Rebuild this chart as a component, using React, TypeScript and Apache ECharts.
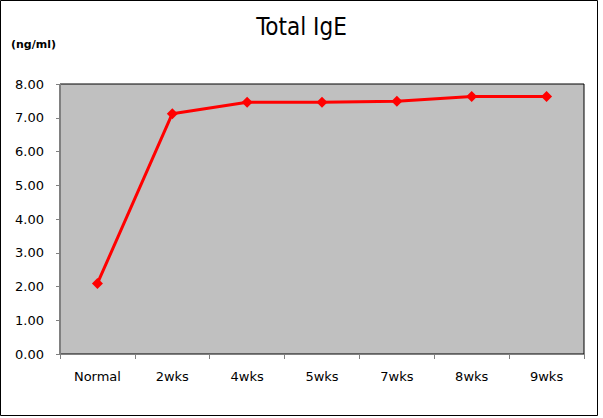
import React, { useEffect, useRef } from "react";
import * as echarts from "echarts";

const categories = ["Normal", "2wks", "4wks", "5wks", "7wks", "8wks", "9wks"];
const values = [2.09, 7.12, 7.46, 7.46, 7.49, 7.63, 7.63];

export default function App() {
  const ref = useRef<HTMLDivElement>(null);
  useEffect(() => {
    const chart = echarts.init(ref.current!, null, { renderer: "svg" });
    chart.setOption({
      animation: false,
      backgroundColor: "#ffffff",
      title: {
        text: "Total IgE",
        left: "center",
        top: 10,
        textStyle: { fontFamily: "DejaVu Sans Condensed, DejaVu Sans", fontSize: 24, fontWeight: "normal", color: "#000" },
      },
      graphic: [
        {
          type: "rect",
          shape: { x: 0.5, y: 0.5, width: 597, height: 415 },
          style: { fill: "none", stroke: "#000", lineWidth: 1 },
          silent: true,
        },
        {
          type: "text",
          left: 11,
          top: 39,
          style: { text: "(ng/ml)", font: "bold 11px 'DejaVu Sans'", fill: "#000" },
        },
      ],
      grid: { left: 60, right: 19, top: 84, bottom: 64, show: true, backgroundColor: "#c0c0c0", borderColor: "#000", borderWidth: 1 },
      xAxis: {
        type: "category",
        data: categories,
        boundaryGap: true,
        axisLine: { lineStyle: { color: "#808080", width: 1 } },
        axisTick: { show: true, alignWithLabel: false, length: 5, lineStyle: { color: "#808080" } },
        axisLabel: { fontFamily: "DejaVu Sans", fontSize: 13, color: "#000", margin: 16 },
      },
      yAxis: {
        type: "value",
        min: 0,
        max: 8,
        interval: 1,
        axisLine: { show: true, lineStyle: { color: "#808080", width: 1 } },
        axisTick: { show: true, length: 4, lineStyle: { color: "#808080" } },
        splitLine: { show: false },
        axisLabel: { fontFamily: "DejaVu Sans", fontSize: 13, color: "#000", margin: 16, formatter: (v: number) => v.toFixed(2) },
      },
      series: [
        {
          type: "line",
          data: values,
          symbol: "diamond",
          symbolSize: 11,
          lineStyle: { color: "#ff0000", width: 3 },
          itemStyle: { color: "#ff0000" },
        },
      ],
    });
    return () => chart.dispose();
  }, []);
  return <div ref={ref} style={{ width: 603, height: 418, position: "absolute", left: 0, top: 0 }} />;
}
